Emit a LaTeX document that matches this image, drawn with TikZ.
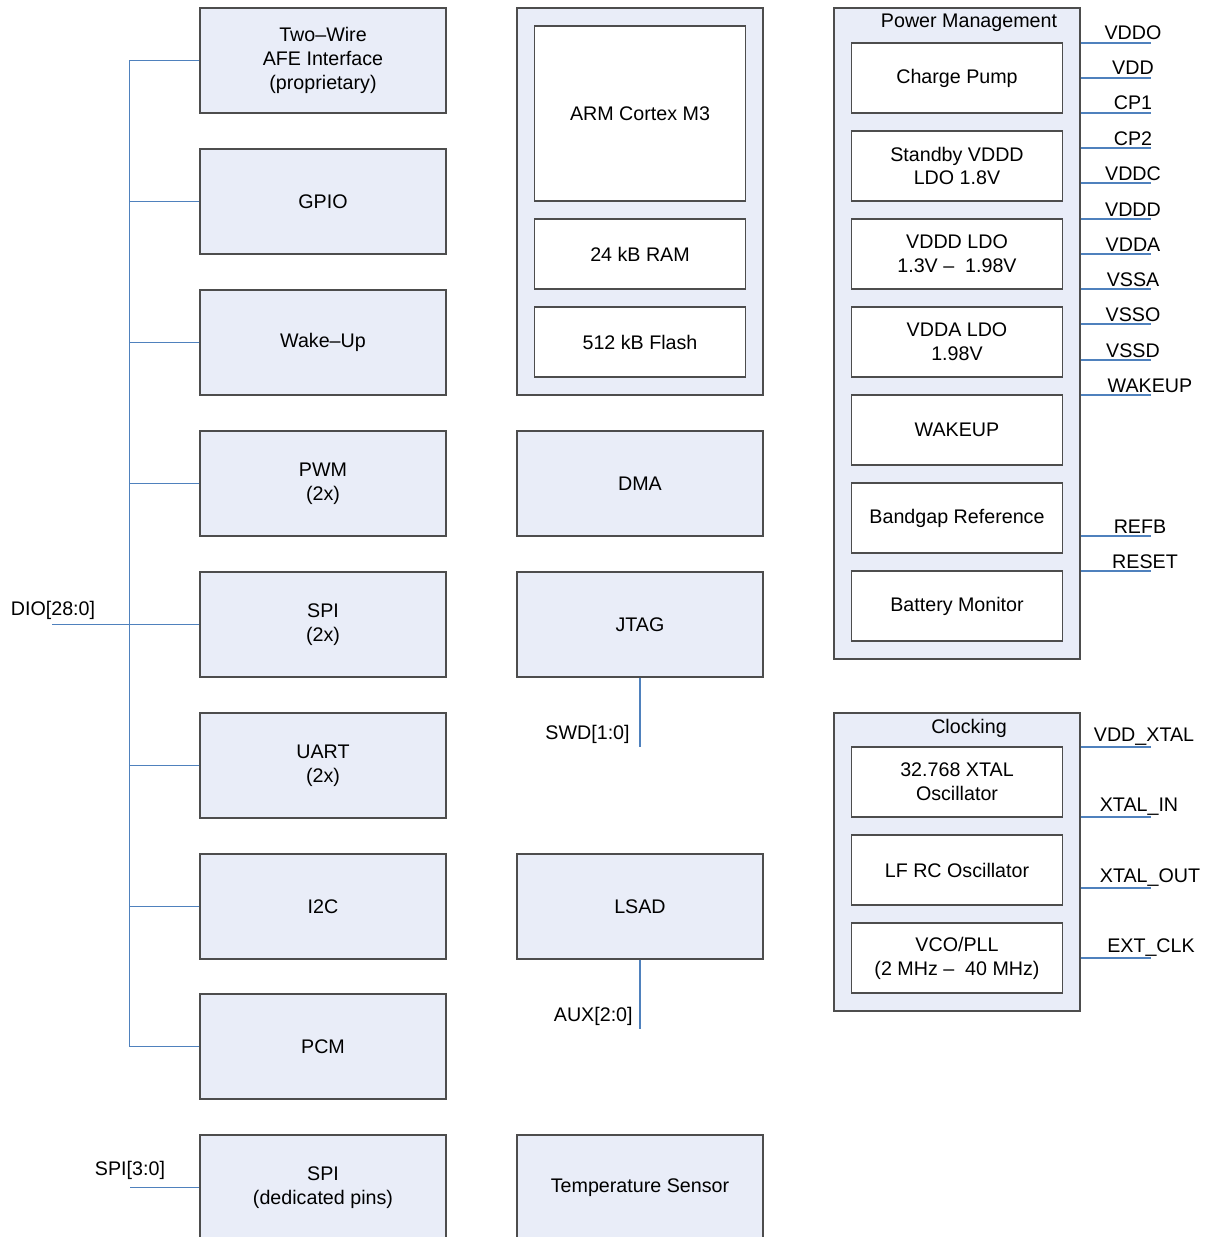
\documentclass[tikz,border=0pt]{standalone}
\usepackage{fontspec}
\setmainfont{Liberation Sans}
\usetikzlibrary{calc}

\definecolor{blkfill}{HTML}{E9EDF8}
\definecolor{blkline}{HTML}{4D4D4D}
\definecolor{pinblue}{HTML}{4F81BD}

\tikzset{
  blk/.style={draw=blkline, fill=blkfill, line width=0.8pt,
    minimum width=4.92cm, minimum height=2.1cm, align=center},
  sub/.style={draw=blkline, fill=white, line width=0.8pt,
    minimum width=4.23cm, minimum height=1.4cm, align=center},
  grp/.style={draw=blkline, fill=blkfill, line width=0.8pt,
    minimum width=4.92cm, inner sep=0pt},
  wire/.style={draw=pinblue, line width=0.6pt},
  pinlbl/.style={anchor=base, inner sep=0pt},
}

\begin{document}
\begin{tikzpicture}[x=0.02cm, y=-0.02cm, font=\fontsize{11.2}{13.6}\selectfont]
        \useasboundingbox (0,0) rectangle (1205,1237);
        % peripheral column
        \foreach \nm/\y/\txt in {twowire/60.5/{Two--Wire\\AFE Interface\\(proprietary)},
            gpio/201.5/GPIO, wakeup/342.5/Wake--Up, pwm/483.5/{PWM\\(2x)},
            spia/624.5/{SPI\\(2x)}, uart/765.5/{UART\\(2x)}, itwoc/906.5/I2C,
            pcm/1046.5/PCM, spid/1187.5/{SPI\\(dedicated pins)}}
        \node[blk] (\nm) at (323,\y) {\txt};
        % DIO bus
        \draw[wire] (twowire.west) -- ++(-70,0) coordinate (bustop);
        \draw[wire] (bustop) |- (pcm.west);
        \foreach \nm in {gpio, wakeup, pwm, uart, itwoc}
        \draw[wire] (\nm.west) -- ++(-70,0);
        \coordinate (dio) at (52,624.5);
        \draw[wire] (dio) -- (spia.west);
        \node[pinlbl] (diolbl) at (53,615) {DIO[28:0]};
        \coordinate (spipins) at (130,1187.5);
        \draw[wire] (spipins) -- (spid.west);
        \node[pinlbl] (spilbl) at (130,1175) {SPI[3:0]};

        % core
        \node[grp, minimum height=7.74cm] (core) at (640,201.5) {};
        \node[sub, minimum height=3.5cm] (arm) at (640,113.5) {ARM Cortex M3};
        \node[sub] (ram) at (640,254) {24 kB RAM};
        \node[sub] (flash) at (640,342) {512 kB Flash};
        \node[blk] (dma) at (640,483.5) {DMA};
        \node[blk] (jtag) at (640,624.5) {JTAG};
        \node[blk] (lsad) at (640,906.5) {LSAD};
        \node[blk] (temp) at (640,1187.5) {Temperature Sensor};
        \coordinate (swd) at (640,747);
        \draw[wire] (jtag.south) -- (swd);
        \node[pinlbl, anchor=base east] (swdlbl) at (630,739) {SWD[1:0]};
        \coordinate (aux) at (640,1029);
        \draw[wire] (lsad.south) -- (aux);
        \node[pinlbl, anchor=base east] (auxlbl) at (633,1021) {AUX[2:0]};

        % power management
        \node[grp, minimum height=13.02cm] (pm) at (957,333.5) {};
        \node[pinlbl] (pmtitle) at (969,28) {Power Management};
        \foreach \nm/\y/\txt in {cpump/78/Charge Pump, stby/166/{Standby VDDD\\LDO 1.8V},
            vdddldo/254/{VDDD LDO\\1.3V --\ \ 1.98V}, vddaldo/342/{VDDA LDO\\1.98V},
            wake/430/WAKEUP, bgap/518/Bandgap Reference, batt/606/Battery Monitor}
        \node[sub] (\nm) at (957,\y) {\txt};
        \foreach \i/\y/\lx/\txt in {1/43/1133/VDDO, 2/78/1133/VDD, 3/113/1133/CP1,
            4/148/1133/CP2, 5/183/1133/VDDC, 6/219/1133/VDDD, 7/254/1133/VDDA,
            8/289/1133/VSSA, 9/324/1133/VSSO, 10/360/1133/VSSD, 11/395/1150/WAKEUP,
            12/536/1140/REFB, 13/571/1145/RESET}
        {
        \coordinate (p\i) at (1151,\y);
        \draw[wire] (pm.east |- p\i) -- (p\i);
        \node[pinlbl] (l\i) at (\lx,\y-3) {\txt};
        }

        % clocking
        \node[grp, minimum height=5.96cm] (clk) at (957,862) {};
        \node[pinlbl] (clktitle) at (969,733) {Clocking};
        \node[sub] (xtal) at (957,782) {32.768 XTAL\\Oscillator};
        \node[sub] (lfrc) at (957,870) {LF RC Oscillator};
        \node[sub] (pll) at (957,958) {VCO/PLL\\(2 MHz --\ \ 40 MHz)};
        \foreach \i/\y/\lx/\txt in {1/747/1144/VDD\_XTAL, 2/817/1139/XTAL\_IN,
            3/888/1150/XTAL\_OUT, 4/958/1151/EXT\_CLK}
        {
        \coordinate (c\i) at (1151,\y);
        \draw[wire] (clk.east |- c\i) -- (c\i);
        \node[pinlbl] (m\i) at (\lx,\y-6) {\txt};
        }
\end{tikzpicture}
\end{document}
